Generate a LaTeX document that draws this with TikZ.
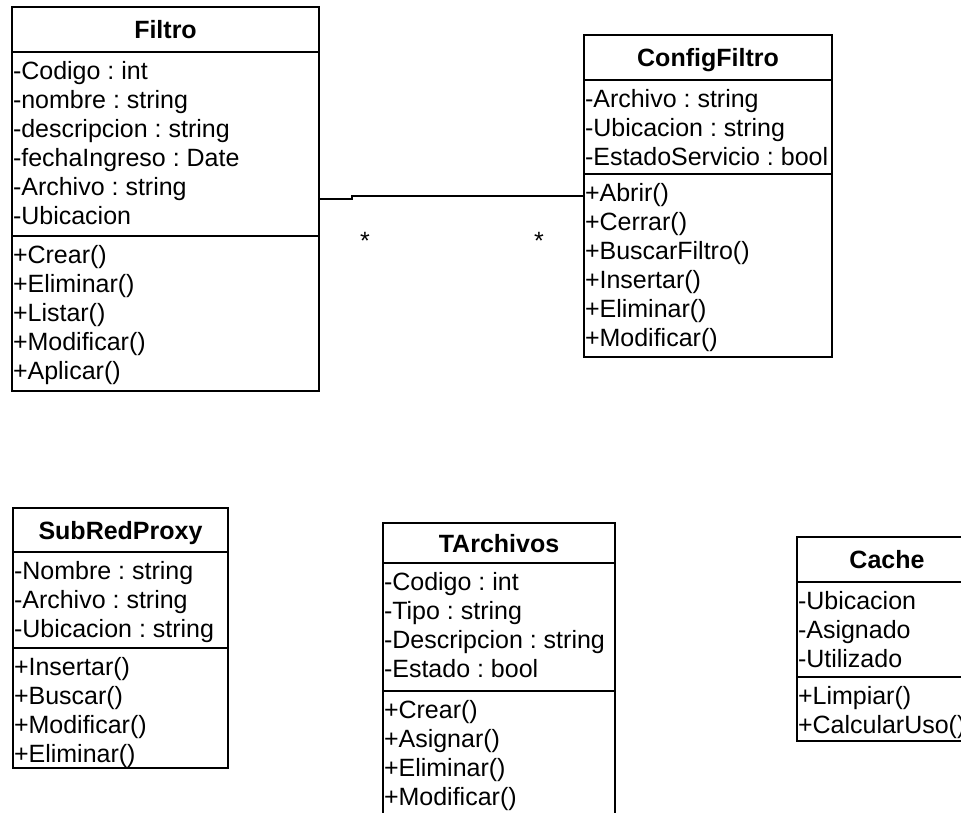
\documentclass[tikz,border=0pt]{standalone}
\usepackage{fontspec}
\setmainfont{Liberation Sans}
\frenchspacing
\usetikzlibrary{positioning,calc}

\begin{document}
\begin{tikzpicture}[x=1pt, y=-1pt,
  every node/.style={font=\fontsize{25}{29}\selectfont, inner sep=0pt, outer sep=0pt},
  cls/.style={rectangle, draw=black, line width=2pt, fill=white},
  ttl/.style={font=\fontsize{25}{29}\selectfont\bfseries, anchor=base},
  row/.style={anchor=base west},
  sep/.style={line width=1.6pt},
  assoc/.style={line width=1.2pt},
  mult/.style={anchor=base}
]
  \useasboundingbox (0,0) rectangle (961,812);
  \clip (0,0) rectangle (961,812);

  % Filtro
  \node[cls, minimum width=307pt, minimum height=384pt] (filtro) at (165.5,199) {};
  \node[ttl] (filtro-name) at ([yshift=-31.5pt]filtro.north) {Filtro};
  \draw[sep] ([yshift=-45pt]filtro.north west) -- ([yshift=-45pt]filtro.north east);
  \draw[sep] ([yshift=-229pt]filtro.north west) -- ([yshift=-229pt]filtro.north east);
  \foreach \txt [count=\k from 0] in {-Codigo : int, -nombre : string, -descripcion : string,
                                      -fechaIngreso : Date, -Archivo : string, -Ubicacion}
    \node[row] (filtro-a\k) at ([xshift=1pt, yshift={-(72+29*\k)*1pt}]filtro.north west) {\txt};
  \foreach \txt [count=\k from 0] in {+Crear(), +Eliminar(), +Listar(), +Modificar(), +Aplicar()}
    \node[row] (filtro-m\k) at ([xshift=1pt, yshift={-(256+29*\k)*1pt}]filtro.north west) {\txt};

  % ConfigFiltro
  \node[cls, minimum width=248pt, minimum height=322pt] (configfiltro) at (708,196) {};
  \node[ttl] (configfiltro-name) at ([yshift=-31.5pt]configfiltro.north) {ConfigFiltro};
  \draw[sep] ([yshift=-45pt]configfiltro.north west) -- ([yshift=-45pt]configfiltro.north east);
  \draw[sep] ([yshift=-139pt]configfiltro.north west) -- ([yshift=-139pt]configfiltro.north east);
  \foreach \txt [count=\k from 0] in {-Archivo : string, -Ubicacion : string, -EstadoServicio : bool}
    \node[row] (configfiltro-a\k) at ([xshift=1pt, yshift={-(72+29*\k)*1pt}]configfiltro.north west) {\txt};
  \foreach \txt [count=\k from 0] in {+Abrir(), +Cerrar(), +BuscarFiltro(), +Insertar(), +Eliminar(), +Modificar()}
    \node[row] (configfiltro-m\k) at ([xshift=1pt, yshift={-(166+29*\k)*1pt}]configfiltro.north west) {\txt};

  % association Filtro -- ConfigFiltro
  \coordinate (jog) at ([xshift=33pt]filtro.east);
  \draw[assoc] (filtro.east) -- (jog) |- (configfiltro.west);
  \node[mult] (mult-filtro) at ([xshift=46pt, yshift=-50pt]filtro.east) {*};
  \node[mult] (mult-config) at ([xshift=-45pt, yshift=-53pt]configfiltro.west) {*};

  % SubRedProxy
  \node[cls, minimum width=215pt, minimum height=260pt] (subred) at (120.5,638) {};
  \node[ttl] (subred-name) at ([yshift=-31pt]subred.north) {SubRedProxy};
  \draw[sep] ([yshift=-44pt]subred.north west) -- ([yshift=-44pt]subred.north east);
  \draw[sep] ([yshift=-140pt]subred.north west) -- ([yshift=-140pt]subred.north east);
  \foreach \txt [count=\k from 0] in {-Nombre : string, -Archivo : string, -Ubicacion : string}
    \node[row] (subred-a\k) at ([xshift=1pt, yshift={-(71+29*\k)*1pt}]subred.north west) {\txt};
  \foreach \txt [count=\k from 0] in {+Insertar(), +Buscar(), +Modificar(), +Eliminar()}
    \node[row] (subred-m\k) at ([xshift=1pt, yshift={-(167+29*\k)*1pt}]subred.north west) {\txt};

  % TArchivos
  \node[cls, minimum width=232pt, minimum height=307pt] (tarchivos) at (499,676.5) {};
  \node[ttl] (tarchivos-name) at ([yshift=-29pt]tarchivos.north) {TArchivos};
  \draw[sep] ([yshift=-40pt]tarchivos.north west) -- ([yshift=-40pt]tarchivos.north east);
  \draw[sep] ([yshift=-168pt]tarchivos.north west) -- ([yshift=-168pt]tarchivos.north east);
  \foreach \txt [count=\k from 0] in {-Codigo : int, -Tipo : string, -Descripcion : string, -Estado : bool}
    \node[row] (tarchivos-a\k) at ([xshift=1pt, yshift={-(67+29*\k)*1pt}]tarchivos.north west) {\txt};
  \foreach \txt [count=\k from 0] in {+Crear(), +Asignar(), +Eliminar(), +Modificar()}
    \node[row] (tarchivos-m\k) at ([xshift=1pt, yshift={-(195+29*\k)*1pt}]tarchivos.north west) {\txt};

  % Cache
  \node[cls, minimum width=180pt, minimum height=204pt] (cache) at (887,639) {};
  \node[ttl] (cache-name) at ([yshift=-31.5pt]cache.north) {Cache};
  \draw[sep] ([yshift=-45pt]cache.north west) -- ([yshift=-45pt]cache.north east);
  \draw[sep] ([yshift=-140pt]cache.north west) -- ([yshift=-140pt]cache.north east);
  \foreach \txt [count=\k from 0] in {-Ubicacion, -Asignado, -Utilizado}
    \node[row] (cache-a\k) at ([xshift=1pt, yshift={-(72+29*\k)*1pt}]cache.north west) {\txt};
  \foreach \txt [count=\k from 0] in {+Limpiar(), +CalcularUso()}
    \node[row] (cache-m\k) at ([xshift=1pt, yshift={-(167+29*\k)*1pt}]cache.north west) {\txt};
\end{tikzpicture}
\end{document}
